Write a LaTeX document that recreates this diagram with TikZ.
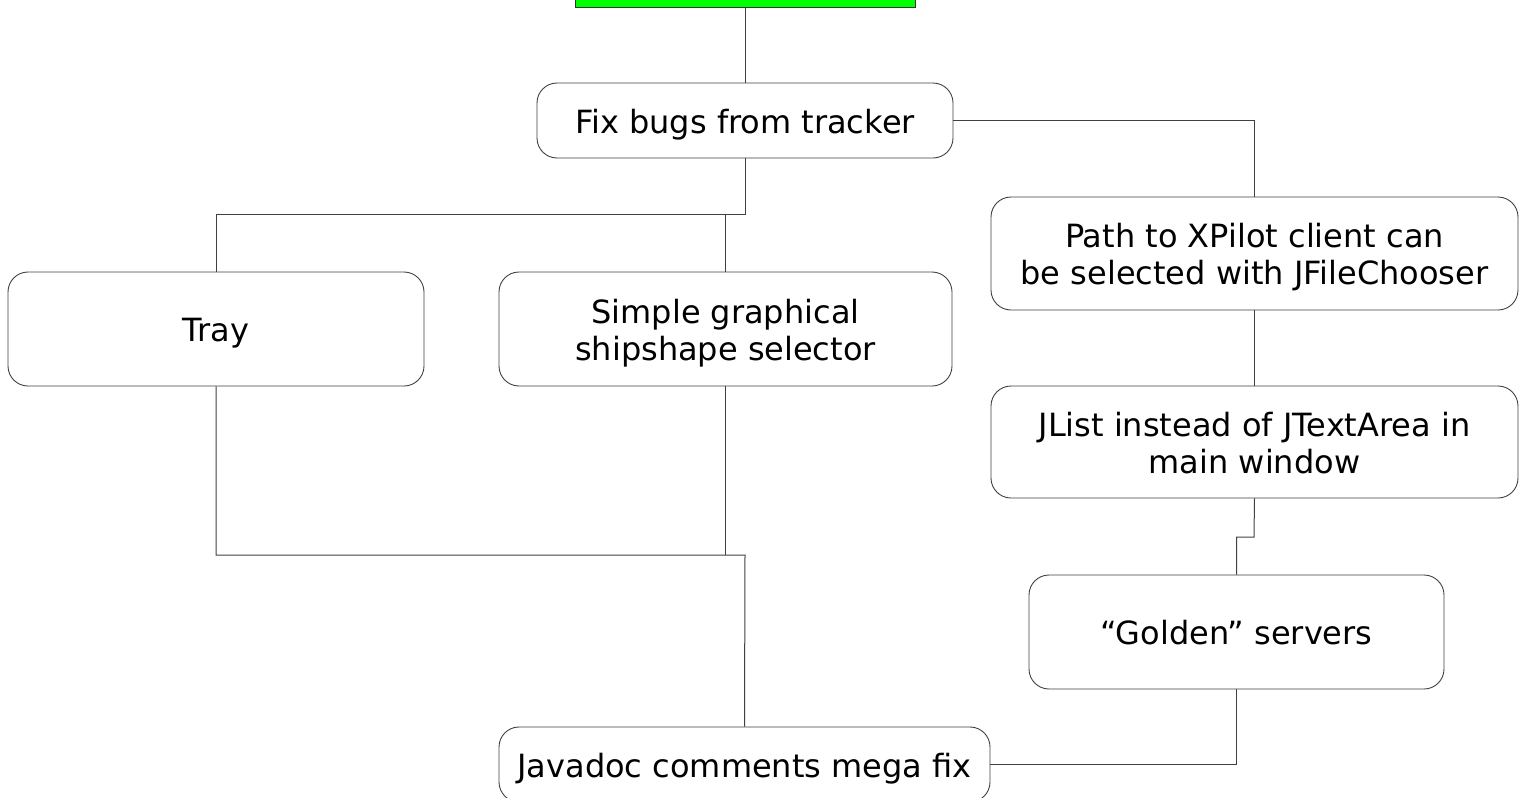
\documentclass[tikz,border=0pt]{standalone}
\usepackage{fontspec}
\setmainfont{DejaVu Sans}
\usetikzlibrary{positioning}

\begin{document}
\begin{tikzpicture}[x=1pt,y=-1pt,thick,
  task/.style={draw=black!75,line width=0.9pt,rounded corners=20pt,fill=white,
    align=center,inner sep=0pt,font=\fontsize{32}{37}\selectfont,
    text height=33pt,text depth=8pt},
  two lines/.style={text height=70pt},
  link/.style={draw=black!75,line width=1pt}]

  \useasboundingbox (0,0) rectangle (1524,798);

  \node[draw=black!80,fill=green,line width=0.9pt,minimum width=340pt,minimum height=75pt] (start) at (745,-30) {};
  \node[task,minimum width=416pt,minimum height=75pt] (fix) at (745,120.5) {Fix bugs from tracker};
  \node[task,minimum width=416pt,minimum height=114pt] (tray) at (216,329) {Tray};
  \node[task,two lines,minimum width=453pt,minimum height=114pt] (ship) at (725.5,329) {Simple graphical\\shipshape selector};
  \node[task,two lines,minimum width=527pt,minimum height=113pt] (path) at (1254.5,253.5) {Path to XPilot client can\\be selected with JFileChooser};
  \node[task,two lines,minimum width=527pt,minimum height=112pt] (jlist) at (1254.5,442) {JList instead of JTextArea in\\main window};
  \node[task,minimum width=415pt,minimum height=114pt] (golden) at (1236.5,632) {“Golden” servers};
  \node[task,minimum width=491pt,minimum height=75pt] (javadoc) at (744.5,764.5) {Javadoc comments mega fix};

  \coordinate (split) at (745,214);
  \coordinate (merge) at (745,555);
  \coordinate (step) at (1254,537);

  \draw[link] (start) -- (fix);
  \draw[link] (fix.east) -| (path.north);
  \draw[link] (fix.south) -- (split) -| (tray.north);
  \draw[link] (split -| ship.north) -- (ship.north);
  \draw[link] (tray.south) |- (merge) -- (javadoc.north);
  \draw[link] (ship.south) -- (merge -| ship.south);
  \draw[link] (path) -- (jlist);
  \draw[link] (jlist.south) -- (step) -| (golden.north);
  \draw[link] (golden.south) |- (javadoc.east);
\end{tikzpicture}
\end{document}
